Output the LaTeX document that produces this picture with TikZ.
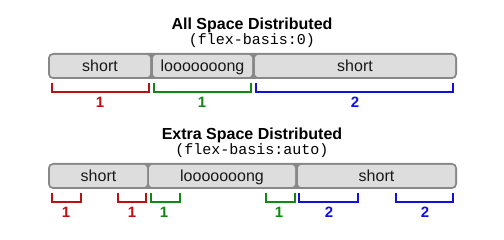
\documentclass[tikz,border=0pt]{standalone}
\usepackage{fontspec}
\setmainfont{Liberation Sans}
\newfontfamily\monofont{Liberation Mono}
\definecolor{cred}{HTML}{BB1111}
\definecolor{cgreen}{HTML}{118811}
\definecolor{cblue}{HTML}{1111DD}
\definecolor{cbar}{HTML}{888888}
\definecolor{citem}{HTML}{DDDDDD}
\begin{document}
\begin{tikzpicture}[x=1pt,y=-1pt,
  title/.style={font=\fontsize{16}{18}\selectfont\bfseries, inner sep=0pt, anchor=base},
  code/.style={font=\fontsize{15}{17}\selectfont\monofont, inner sep=0pt, anchor=base},
  bar/.style={fill=cbar, rounded corners=5pt},
  item/.style={fill=citem, rounded corners=3pt, inner sep=0pt, minimum height=22pt,
    text height=15pt, text depth=3pt, font=\fontsize{16}{18}\selectfont, text=black!90},
  brk/.style={line width=2pt, line cap=butt},
  num/.style={font=\fontsize{15}{17}\selectfont\bfseries, inner sep=0pt, anchor=base}
]
\useasboundingbox (0,0) rectangle (504,240);
% ---- top
\node[title] (t1) at (252,29.5) {All Space Distributed};
\node[code] (c1) at (252,44.5) {(flex-basis:0)};
\fill[bar] (48,53) rectangle (457,79);
\node[item, minimum width=100pt] (a1) at (100,66) {short};
\node[item, minimum width=99pt] (a2) at (202.5,66) {looooooong};
\node[item, minimum width=200pt] (a3) at (355,66) {short};
\draw[brk, cred] (52,83) -- (52,92) -- (149,92) -- (149,83);
\draw[brk, cgreen] (154,83) -- (154,92) -- (251,92) -- (251,83);
\draw[brk, cblue] (256,83) -- (256,92) -- (453,92) -- (453,83);
\node[num, text=cred] (n1) at (100,107.5) {1};
\node[num, text=cgreen] (n2) at (202,107.5) {1};
\node[num, text=cblue] (n3) at (355,107.5) {2};
% ---- bottom
\node[title] (t2) at (252,139.5) {Extra Space Distributed};
\node[code] (c2) at (252,154.5) {(flex-basis:auto)};
\fill[bar] (48,163) rectangle (457,189);
\node[item, minimum width=97pt] (b1) at (98.5,176) {short};
\node[item, minimum width=146pt] (b2) at (222,176) {looooooong};
\node[item, minimum width=157pt] (b3) at (376.5,176) {short};
\draw[brk, cred] (52,193) -- (52,202) -- (81,202) -- (81,193);
\draw[brk, cred] (118,193) -- (118,202) -- (146,202) -- (146,193);
\draw[brk, cgreen] (151,193) -- (151,202) -- (180,202) -- (180,193);
\draw[brk, cgreen] (266,193) -- (266,202) -- (295,202) -- (295,193);
\draw[brk, cblue] (299,193) -- (299,202) -- (358,202) -- (358,193);
\draw[brk, cblue] (396,193) -- (396,202) -- (453,202) -- (453,193);
\node[num, text=cred] (m1) at (66,217.5) {1};
\node[num, text=cred] (m2) at (132,217.5) {1};
\node[num, text=cgreen] (m3) at (164,217.5) {1};
\node[num, text=cgreen] (m4) at (279,217.5) {1};
\node[num, text=cblue] (m5) at (329,217.5) {2};
\node[num, text=cblue] (m6) at (425,217.5) {2};
\end{tikzpicture}
\end{document}
